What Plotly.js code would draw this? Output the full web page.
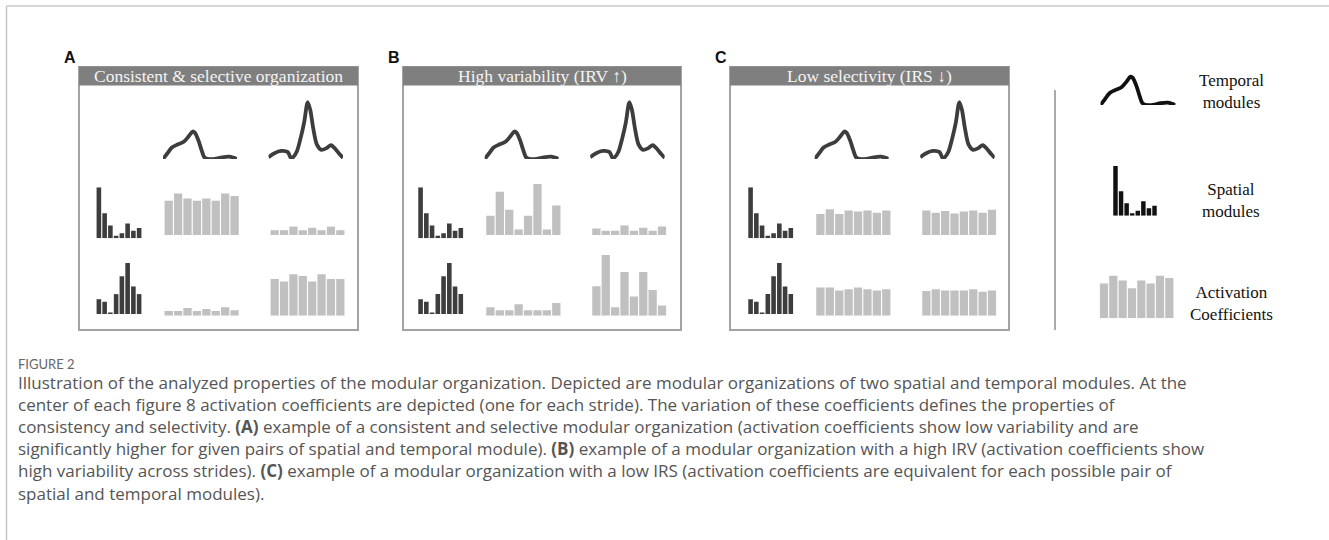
<!DOCTYPE html>
<html><head><meta charset="utf-8">
<script src="https://cdn.plot.ly/plotly-3.0.1.min.js"></script>
<style>html,body{margin:0;padding:0;background:#fff}#chart{width:1329px;height:540px}</style>
</head><body><div id="chart"></div>
<script>
// ---------- DATA ----------
const panelLabels = ["A", "B", "C"];
const panelTitles = ["Consistent &amp; selective organization", "High variability (IRV \u2191)", "Low selectivity (IRS \u2193)"];
const legendLabels = ["Temporal<br>modules", "Spatial<br>modules", "Activation<br>Coefficients"];
const strides = [1, 2, 3, 4, 5, 6, 7, 8];
const muscles = [1, 2, 3, 4, 5, 6, 7, 8];

// temporal modules (normalized time, amplitude)
const temporalTime1 = [0, 0.06, 0.12, 0.19, 0.28, 0.35, 0.40, 0.43, 0.48, 0.52, 0.56, 0.62, 0.70, 0.80, 0.90, 1.0];
const temporalModule1 = [0, 0.10, 0.20, 0.25, 0.30, 0.40, 0.48, 0.46, 0.32, 0.16, 0.03, 0, 0, 0.03, 0.04, 0];
const temporalTime2 = [0, 0.08, 0.17, 0.26, 0.30, 0.33, 0.38, 0.43, 0.48, 0.525, 0.56, 0.60, 0.65, 0.71, 0.78, 0.84, 0.90, 0.95, 1.0];
const temporalModule2 = [0.03, 0.10, 0.14, 0.12, 0.02, 0.03, 0.13, 0.36, 0.65, 0.99, 0.86, 0.54, 0.25, 0.16, 0.19, 0.24, 0.17, 0.09, 0.02];

// spatial modules (muscle weights)
const spatialModule1 = [1.0, 0.49, 0.25, 0.05, 0.10, 0.29, 0.15, 0.20];
const spatialModule2 = [0.29, 0.24, 0.03, 0.39, 0.74, 1.0, 0.54, 0.39];

// activation coefficients [panel][spatial row][temporal col]
const coefA11 = [0.57, 0.69, 0.61, 0.57, 0.61, 0.57, 0.69, 0.65];
const coefA12 = [0.08, 0.08, 0.14, 0.08, 0.12, 0.08, 0.14, 0.08];
const coefA21 = [0.08, 0.08, 0.13, 0.08, 0.11, 0.08, 0.14, 0.09];
const coefA22 = [0.61, 0.57, 0.69, 0.66, 0.57, 0.69, 0.61, 0.61];
const coefB11 = [0.32, 0.72, 0.42, 0.09, 0.32, 0.85, 0.09, 0.49];
const coefB12 = [0.11, 0.07, 0.07, 0.16, 0.07, 0.12, 0.07, 0.14];
const coefB21 = [0.14, 0.09, 0.09, 0.19, 0.09, 0.09, 0.09, 0.21];
const coefB22 = [0.49, 1.01, 0.14, 0.73, 0.32, 0.73, 0.43, 0.17];
const coefC11 = [0.35, 0.43, 0.35, 0.41, 0.39, 0.41, 0.37, 0.41];
const coefC12 = [0.41, 0.37, 0.40, 0.36, 0.39, 0.41, 0.37, 0.42];
const coefC21 = [0.47, 0.47, 0.42, 0.44, 0.47, 0.44, 0.42, 0.44];
const coefC22 = [0.41, 0.44, 0.42, 0.42, 0.42, 0.44, 0.40, 0.42];
const legendCoef = [0.58, 0.71, 0.63, 0.50, 0.63, 0.58, 0.71, 0.67];

const captionHead = "FIGURE 2";
const captionLines = [
  "Illustration of the analyzed properties of the modular organization. Depicted are modular organizations of two spatial and temporal modules. At the",
  "center of each figure 8 activation coefficients are depicted (one for each stride). The variation of these coefficients defines the properties of",
  "consistency and selectivity. <b>(A)</b> example of a consistent and selective modular organization (activation coefficients show low variability and are",
  "significantly higher for given pairs of spatial and temporal module). <b>(B)</b> example of a modular organization with a high IRV (activation coefficients show",
  "high variability across strides). <b>(C)</b> example of a modular organization with a low IRS (activation coefficients are equivalent for each possible pair of",
  "spatial and temporal modules)."
];

// ---------- LAYOUT HELPERS ----------
const W = 1329, H = 540;
const px = x => x / W;
const py = y => 1 - y / H;
const coefs = [[[coefA11, coefA12], [coefA21, coefA22]], [[coefB11, coefB12], [coefB21, coefB22]], [[coefC11, coefC12], [coefC21, coefC22]]];
const contentShift = [0, 321.7, 651.7];
const boxes = [[79, 358], [403, 681], [730, 1009]];

const DARK = "#3d3d3d", LIGHT = "#c0c0c0";
const traces = [];
const layout = {
  width: W, height: H, margin: {l: 0, r: 0, t: 0, b: 0},
  paper_bgcolor: "#fff", plot_bgcolor: "rgba(0,0,0,0)", showlegend: false,
  shapes: [], annotations: []
};
let n = 0;
function addAxes(x0, x1, yTop, yBot, xr, yr, trace) {
  n++;
  const xa = n === 1 ? "xaxis" : "xaxis" + n, ya = n === 1 ? "yaxis" : "yaxis" + n;
  const common = {visible: false, showgrid: false, zeroline: false, fixedrange: true};
  layout[xa] = Object.assign({domain: [px(x0), px(x1)], range: xr, anchor: "y" + (n === 1 ? "" : n)}, common);
  layout[ya] = Object.assign({domain: [py(yBot), py(yTop)], range: yr, anchor: "x" + (n === 1 ? "" : n)}, common);
  trace.xaxis = "x" + (n === 1 ? "" : n);
  trace.yaxis = "y" + (n === 1 ? "" : n);
  trace.hoverinfo = "skip";
  traces.push(trace);
}
function lineTrace(t, v, color) {
  return {type: "scatter", mode: "lines", x: t, y: v, line: {color: color, width: 3.8, shape: "spline", smoothing: 0.8}};
}
function barTrace(v, color, w) {
  return {type: "bar", x: (v.length === 8 ? strides : muscles).map(d => d - 1), y: v, width: w, marker: {color: color, line: {width: 0}}};
}

// ---------- PANELS ----------
for (let p = 0; p < 3; p++) {
  const s = contentShift[p];
  const [bx0, bx1] = boxes[p];
  layout.shapes.push({type: "rect", xref: "paper", yref: "paper", x0: px(bx0), x1: px(bx1), y0: py(330), y1: py(67), line: {color: "#a3a3a3", width: 2}, fillcolor: "rgba(0,0,0,0)"});
  layout.shapes.push({type: "rect", xref: "paper", yref: "paper", x0: px(bx0), x1: px(bx1), y0: py(85.5), y1: py(66.5), line: {width: 0}, fillcolor: "#7f7f7f"});
  layout.annotations.push({xref: "paper", yref: "paper", x: px((bx0 + bx1) / 2), y: py(76.5), text: panelTitles[p], showarrow: false, xanchor: "center", yanchor: "middle", font: {family: "Liberation Serif, Times New Roman, serif", size: 17.5, color: "#f4f4f4"}});
  layout.annotations.push({xref: "paper", yref: "paper", x: px(bx0 - 9), y: py(58), text: "<b>" + panelLabels[p] + "</b>", showarrow: false, xanchor: "center", yanchor: "middle", font: {family: "Liberation Sans, Arial, sans-serif", size: 16, color: "#111"}});
  addAxes(163 + s, 237 + s, 99, 159, [0, 1], [0, 60 / 57.3], lineTrace(temporalTime1, temporalModule1, DARK));
  addAxes(268.5 + s, 343 + s, 99, 159, [0, 1], [0, 60 / 57.3], lineTrace(temporalTime2, temporalModule2, DARK));
  addAxes(96 + s, 142 + s, 187.3, 238.3, [-0.5, 7.5], [0, 1], barTrace(spatialModule1, DARK, 0.8));
  addAxes(96 + s, 142 + s, 263, 314, [-0.5, 7.5], [0, 1], barTrace(spatialModule2, DARK, 0.8));
  const colX = [[164, 239.3], [270, 345]];
  const rowBase = [235, 315.7];
  for (let r = 0; r < 2; r++) for (let c = 0; c < 2; c++) {
    addAxes(colX[c][0] + s, colX[c][1] + s, rowBase[r] - 62, rowBase[r], [-0.5, 7.5], [0, 62 / 60], barTrace(coefs[p][r][c], LIGHT, 0.88));
  }
}

// ---------- LEGEND ----------
addAxes(1100.5, 1175.5, 45, 105, [0, 1], [0, 60 / 59], lineTrace(temporalTime1, temporalModule1, "#111"));
addAxes(1112.7, 1157.3, 166, 215.7, [-0.5, 7.5], [0, 1], barTrace(spatialModule1, "#111", 0.8));
addAxes(1099.3, 1174, 256.3, 318.3, [-0.5, 7.5], [0, 62 / 60], barTrace(legendCoef, LIGHT, 0.88));
const legY = [91, 200, 303];
legendLabels.forEach((t, i) => layout.annotations.push({xref: "paper", yref: "paper", x: px(1231), y: py(legY[i]), text: t, showarrow: false, xanchor: "center", yanchor: "middle", align: "center", font: {family: "Liberation Serif, Times New Roman, serif", size: 17, color: "#111"}}));
layout.shapes.push({type: "line", xref: "paper", yref: "paper", x0: px(1055), x1: px(1055), y0: py(90), y1: py(330), line: {color: "#555", width: 1}});

// ---------- FRAME + CAPTION ----------
layout.shapes.push({type: "line", xref: "paper", yref: "paper", x0: px(6.5), x1: 1, y0: py(6), y1: py(6), line: {color: "#c8c8c8", width: 1.5}});
layout.shapes.push({type: "line", xref: "paper", yref: "paper", x0: px(6.5), x1: px(6.5), y0: py(6), y1: 0, line: {color: "#c8c8c8", width: 1.5}});
layout.annotations.push({xref: "paper", yref: "paper", x: px(16), y: py(364), text: captionHead, showarrow: false, xanchor: "left", yanchor: "middle", font: {family: "Lato, Open Sans, sans-serif", size: 13, color: "#666"}});
layout.annotations.push({xref: "paper", yref: "paper", x: px(16), y: py(438), text: captionLines.join("<br>"), showarrow: false, xanchor: "left", yanchor: "middle", align: "left", font: {family: "Open Sans, sans-serif", size: 17, color: "#555"}});

Plotly.newPlot("chart", traces, layout, {displayModeBar: false, staticPlot: true});
</script></body></html>
